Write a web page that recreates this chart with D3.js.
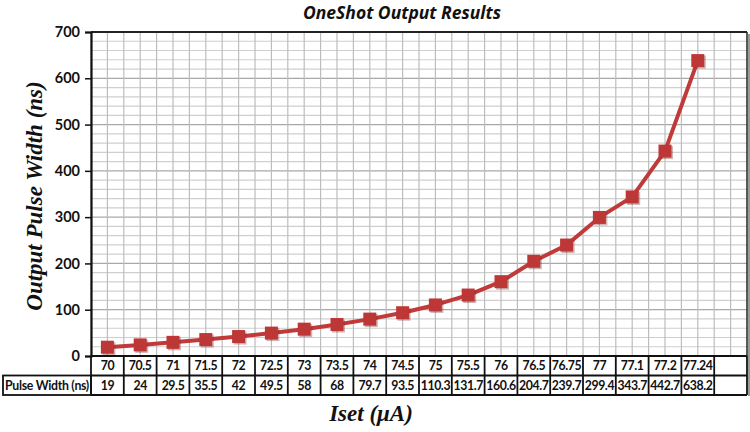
<!DOCTYPE html>
<html><head><meta charset="utf-8">
<script src="https://cdn.jsdelivr.net/npm/d3@7"></script>
<style>
body{margin:0;background:#fff;}
svg{display:block;}
</style></head>
<body><svg id="c" width="750" height="432"></svg>
<script>
const categories = ["70","70.5","71","71.5","72","72.5","73","73.5","74","74.5","75","75.5","76","76.5","76.75","77","77.1","77.2","77.24"];
const pulseWidth = [19,24,29.5,35.5,42,49.5,58,68,79.7,93.5,110.3,131.7,160.6,204.7,239.7,299.4,343.7,442.7,638.2];
const pulseLabels = ["19","24","29.5","35.5","42","49.5","58","68","79.7","93.5","110.3","131.7","160.6","204.7","239.7","299.4","343.7","442.7","638.2"];
const yTicks = [0,100,200,300,400,500,600,700];
const seriesName = "Pulse Width (ns)";

const svg = d3.select("#c");
const L = 91, R = 747, T = 32, B = 356;
const rowH = 19.5;
const domain = categories.concat([" "]);
const x = d3.scaleBand().domain(domain).range([L, R]).padding(0);
const y = d3.scaleLinear().domain([0, 700]).range([B, T]);

// grid
const g = svg.append("g");
const minorY = d3.range(0, 701, 20);
g.selectAll("line.hy").data(minorY).enter().append("line")
  .attr("x1", L).attr("x2", R).attr("y1", d => y(d)).attr("y2", d => y(d))
  .attr("stroke", d => d % 100 === 0 ? "#a8a8a8" : "#cfcfcf").attr("stroke-width", 1.2);
const vx = [];
domain.forEach(d => { vx.push(x(d)); vx.push(x(d) + x.bandwidth()/2); });
g.selectAll("line.vx").data(vx).enter().append("line")
  .attr("x1", d => d).attr("x2", d => d).attr("y1", T).attr("y2", B)
  .attr("stroke", "#bdbdbd").attr("stroke-width", 1.2);

// frame top and right
svg.append("line").attr("x1", L).attr("x2", R).attr("y1", T).attr("y2", T).attr("stroke", "#222").attr("stroke-width", 2);
svg.append("line").attr("x1", R).attr("x2", R).attr("y1", T).attr("y2", B).attr("stroke", "#222").attr("stroke-width", 1.5);
svg.append("line").attr("x1", R+2).attr("x2", R+2).attr("y1", T+2).attr("y2", 396).attr("stroke", "#999").attr("stroke-width", 2);

// y axis
const ya = svg.append("g").attr("transform", `translate(${L},0)`)
  .call(d3.axisLeft(y).tickValues(yTicks).tickSize(6).tickPadding(5));
ya.select(".domain").attr("stroke", "#111").attr("stroke-width", 2.2);
ya.selectAll(".tick line").attr("stroke", "#111").attr("stroke-width", 1.5);
ya.selectAll(".tick text").attr("font-family", "Lato, 'Open Sans', sans-serif").attr("font-weight", "bold")
  .attr("font-size", 14.5).attr("fill", "#111");

// line + markers
const cx = d => x(d) + x.bandwidth()/2;
const line = d3.line().x((d,i) => cx(categories[i])).y(d => y(d));
svg.append("path").datum(pulseWidth).attr("d", line).attr("fill", "none")
  .attr("stroke", "#c03a3a").attr("stroke-width", 4).attr("stroke-linejoin", "round");
const ms = 13;
svg.selectAll("rect.sh").data(pulseWidth).enter().append("rect")
  .attr("x", (d,i) => cx(categories[i]) - ms/2 + 1.5).attr("y", d => y(d) - ms/2 + 1.5)
  .attr("width", ms).attr("height", ms).attr("fill", "#7a2a2a").attr("opacity", 0.35);
svg.selectAll("rect.m").data(pulseWidth).enter().append("rect")
  .attr("x", (d,i) => cx(categories[i]) - ms/2).attr("y", d => y(d) - ms/2)
  .attr("width", ms).attr("height", ms).attr("fill", "#be3737");

// data table
const tb = svg.append("g");
const r1 = B, r2 = B + rowH, r3 = B + 2*rowH;
const tf = "Lato, 'Open Sans', sans-serif";
tb.append("rect").attr("x", 3).attr("y", r2).attr("width", L - 3).attr("height", rowH)
  .attr("fill", "none").attr("stroke", "#111").attr("stroke-width", 1.8);
[r1, r2, r3].forEach(yy => tb.append("line").attr("x1", L).attr("x2", R).attr("y1", yy).attr("y2", yy)
  .attr("stroke", "#111").attr("stroke-width", 1.8));
tb.selectAll("line.cv").data(domain.concat(["__end"])).enter().append("line")
  .attr("x1", d => d === "__end" ? R : x(d)).attr("x2", d => d === "__end" ? R : x(d))
  .attr("y1", r1).attr("y2", r3).attr("stroke", "#111").attr("stroke-width", 1.8);
tb.selectAll("text.cat").data(categories).enter().append("text")
  .attr("x", d => cx(d)).attr("y", r1 + rowH/2 + 4.5).attr("text-anchor", "middle")
  .attr("font-family", tf).attr("font-weight", "bold").attr("font-size", 12.3).attr("letter-spacing", -0.4)
  .attr("fill", "#111").text(d => d);
tb.selectAll("text.val").data(pulseLabels).enter().append("text")
  .attr("x", (d,i) => cx(categories[i])).attr("y", r2 + rowH/2 + 4.5).attr("text-anchor", "middle")
  .attr("font-family", tf).attr("font-weight", "bold").attr("font-size", 12.3).attr("letter-spacing", -0.4)
  .attr("fill", "#111").text(d => d);
tb.append("text").attr("x", (3 + L)/2).attr("y", r2 + rowH/2 + 4.5).attr("text-anchor", "middle")
  .attr("font-family", tf).attr("font-weight", "bold").attr("font-size", 12.3).attr("letter-spacing", -0.3)
  .attr("fill", "#111").text(seriesName);

// titles
svg.append("text").attr("x", 402).attr("y", 19).attr("text-anchor", "middle")
  .attr("font-family", "'Open Sans', Lato, sans-serif").attr("font-style", "italic").attr("font-weight", "bold")
  .attr("font-size", 17.5).attr("fill", "#111").text("OneShot Output Results");
svg.append("text").attr("transform", "translate(42,196) rotate(-90)").attr("text-anchor", "middle")
  .attr("font-family", "'Liberation Serif', 'DejaVu Serif', serif").attr("font-style", "italic").attr("font-weight", "bold")
  .attr("font-size", 23).attr("fill", "#111").text("Output Pulse Width (ns)");
svg.append("text").attr("x", 371).attr("y", 421).attr("text-anchor", "middle")
  .attr("font-family", "'Liberation Serif', 'DejaVu Serif', serif").attr("font-style", "italic").attr("font-weight", "bold")
  .attr("font-size", 23).attr("fill", "#111").text("Iset (μA)");
</script></body></html>
